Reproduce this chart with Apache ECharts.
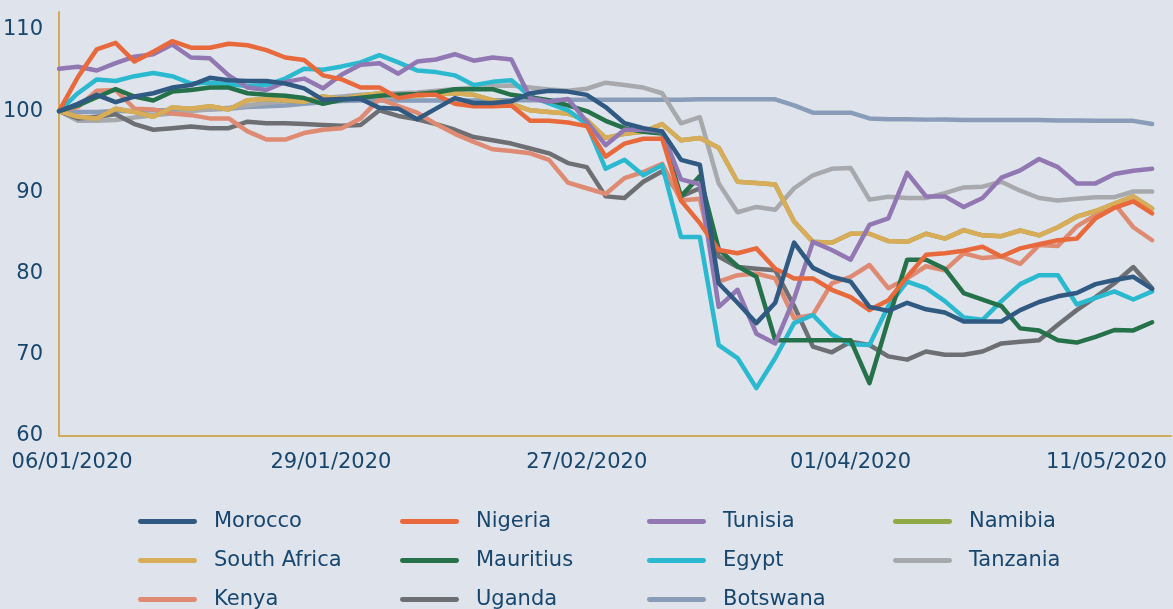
<!DOCTYPE html>
<html>
<head>
<meta charset="utf-8">
<title>African currencies index</title>
<script src="https://cdn.jsdelivr.net/npm/echarts@6/dist/echarts.min.js"></script>
<style>
  html, body { margin: 0; padding: 0; background: #dfe3eb; }
  #chart { width: 1173px; height: 609px; }
</style>
</head>
<body>
<div id="chart"></div>
<script>
    "use strict";

    // dates of the points (the last one only stretches the axis)
    var dates = [
        '06/01/2020', '07/01/2020', '09/01/2020', '11/01/2020', '12/01/2020', '14/01/2020', '16/01/2020',
        '17/01/2020', '19/01/2020', '20/01/2020', '22/01/2020', '24/01/2020', '25/01/2020', '27/01/2020',
        '29/01/2020',
        '31/01/2020', '02/02/2020', '04/02/2020', '06/02/2020', '08/02/2020', '10/02/2020', '12/02/2020',
        '14/02/2020', '16/02/2020', '18/02/2020', '20/02/2020', '22/02/2020', '24/02/2020', '27/02/2020',
        '29/02/2020', '03/03/2020', '05/03/2020', '08/03/2020', '10/03/2020', '13/03/2020', '15/03/2020',
        '17/03/2020', '20/03/2020', '22/03/2020', '24/03/2020', '27/03/2020', '29/03/2020', '01/04/2020',
        '04/04/2020', '07/04/2020', '09/04/2020', '12/04/2020', '15/04/2020', '18/04/2020', '21/04/2020',
        '23/04/2020', '26/04/2020', '29/04/2020', '02/05/2020', '05/05/2020', '08/05/2020', '11/05/2020',
        '13/05/2020', '15/05/2020', '17/05/2020'
    ];
    var tickDates = ['06/01/2020', '29/01/2020', '27/02/2020', '01/04/2020', '11/05/2020'];
    var yTicks = [60, 70, 80, 90, 100, 110];

    var morocco = [100, 100.9, 102.0, 101.1, 101.8, 102.2, 102.9, 103.2, 104.1, 103.8, 103.7, 103.7, 103.4, 102.8,
        101.4, 101.5, 101.5, 100.4, 100.3, 99.0, 100.3, 101.6, 101.0, 101.0, 101.2, 102.2, 102.5, 102.4, 102.0,
        100.5, 98.5, 97.9, 97.5, 94.0, 93.4, 78.8, 76.4, 73.9, 76.4, 83.8, 80.7, 79.6, 79.0, 75.9, 75.4, 76.4,
        75.6, 75.2, 74.1, 74.1, 74.1, 75.5, 76.5, 77.2, 77.6, 78.7, 79.2, 79.6, 78.1];
    var nigeria = [100, 104.2, 107.6, 108.4, 106.1, 107.3, 108.6, 107.8, 107.8, 108.3, 108.1, 107.5, 106.6, 106.3,
        104.4, 103.9, 102.9, 102.9, 101.6, 102.0, 102.0, 100.9, 100.6, 100.6, 100.7, 98.8, 98.8, 98.6, 98.15,
        94.4, 96.0, 96.6, 96.6, 89.0, 86.2, 82.9, 82.5, 83.1, 80.6, 79.4, 79.4, 78.0, 77.1, 75.5, 76.7, 79.6,
        82.3, 82.5, 82.8, 83.3, 82.1, 83.1, 83.6, 84.1, 84.3, 86.8, 88.1, 88.9, 87.4];
    var tunisia = [105.2, 105.45, 105.0, 105.9, 106.7, 107.0, 108.2, 106.6, 106.5, 104.4, 102.9, 102.6, 103.6, 104.0,
        102.8, 104.5, 105.7, 105.9, 104.6, 106.1, 106.35, 107.0, 106.2, 106.6, 106.35, 101.6, 101.15, 101.5, 98.7,
        95.8, 97.7, 97.7, 97.45, 91.6, 91.0, 75.9, 78.0, 72.6, 71.4, 76.9, 83.9, 82.9, 81.7, 86.0, 86.8, 92.4,
        89.5, 89.5, 88.2, 89.3, 91.8, 92.7, 94.1, 93.1, 91.1, 91.1, 92.25, 92.65, 92.9];
    // Namibia sits right under South Africa (pegged currency)
    var namibia = [100, 99.3, 99.1, 100.3, 99.9, 99.3, 100.45, 100.3, 100.6, 100.2, 101.35, 101.5, 101.35, 101.15,
        101.8, 101.5, 101.9, 102.2, 101.8, 101.9, 102.1, 102.2, 102.0, 101.35, 100.9, 100.1, 99.9, 99.7, 98.9,
        96.7, 97.2, 97.45, 98.4, 96.4, 96.7, 95.5, 91.3, 91.15, 90.95, 86.4, 83.9, 83.8, 84.9, 84.9, 84.0, 83.9,
        84.9, 84.3, 85.35, 84.7, 84.6, 85.3, 84.7, 85.7, 87.0, 87.7, 88.6, 89.5, 88.0];
    var southAfrica = [100, 99.3, 99.1, 100.3, 99.9, 99.3, 100.45, 100.3, 100.6, 100.2, 101.35, 101.5, 101.35, 101.15,
        101.8, 101.5, 101.9, 102.2, 101.8, 101.9, 102.1, 102.2, 102.0, 101.35, 100.9, 100.1, 99.9, 99.7, 98.9,
        96.7, 97.2, 97.45, 98.4, 96.4, 96.7, 95.5, 91.3, 91.15, 90.95, 86.4, 83.9, 83.8, 84.9, 84.9, 84.0, 83.9,
        84.9, 84.3, 85.35, 84.7, 84.6, 85.3, 84.7, 85.7, 87.0, 87.7, 88.6, 89.5, 88.0];
    var mauritius = [100, 100.7, 101.7, 102.7, 101.8, 101.3, 102.4, 102.6, 102.9, 102.9, 102.2, 102.0, 101.9, 101.6,
        100.9, 101.4, 101.65, 101.9, 102.0, 102.1, 102.3, 102.7, 102.7, 102.7, 102.0, 101.7, 101.35, 100.7, 100.0,
        98.8, 97.9, 97.45, 97.25, 89.5, 92.0, 83.0, 80.9, 79.6, 71.8, 71.8, 71.8, 71.8, 71.8, 66.5, 74.3, 81.7,
        81.7, 80.6, 77.6, 76.8, 76.0, 73.25, 73.0, 71.8, 71.5, 72.2, 73.05, 73.0, 74.0];
    var egypt = [100, 102.2, 103.9, 103.7, 104.3, 104.7, 104.3, 103.4, 103.5, 103.3, 103.1, 103.2, 104.0, 105.2,
        105.1, 105.5, 106.0, 106.9, 106.0, 105.0, 104.8, 104.4, 103.2, 103.6, 103.8, 101.8, 100.95, 100.1, 98.4,
        92.9, 94.0, 92.1, 93.35, 84.5, 84.5, 71.2, 69.6, 65.9, 69.6, 73.9, 74.9, 72.5, 71.3, 71.2, 76.0, 79.0,
        78.2, 76.6, 74.6, 74.3, 76.6, 78.7, 79.8, 79.8, 76.2, 77.0, 77.8, 76.8, 77.8];
    var tanzania = [100, 98.8, 98.8, 98.9, 99.2, 99.5, 99.7, 100.0, 100.2, 100.4, 100.7, 101.0, 101.2, 101.4,
        101.6, 101.8, 102.0, 102.1, 102.2, 102.3, 102.5, 102.7, 102.9, 103.1, 103.15, 102.9, 102.65, 102.5, 102.75,
        103.5, 103.2, 102.9, 102.2, 98.5, 99.25, 91.1, 87.55, 88.2, 87.85, 90.5, 92.1, 92.9, 93.0, 89.1, 89.45,
        89.3, 89.3, 89.9, 90.6, 90.7, 91.3, 90.2, 89.3, 89.0, 89.2, 89.4, 89.4, 90.1, 90.1];
    var kenya = [100, 100.5, 102.5, 102.6, 100.3, 100.2, 99.7, 99.5, 99.1, 99.1, 97.5, 96.5, 96.5, 97.3,
        97.7, 97.9, 99.1, 101.5, 100.6, 99.8, 98.4, 97.2, 96.2, 95.3, 95.1, 94.8, 94.0, 91.2, 90.5,
        89.8, 91.75, 92.5, 93.5, 89.0, 89.2, 79.0, 79.8, 80.0, 79.4, 74.5, 74.9, 78.8, 79.6, 81.05, 78.2, 79.4,
        80.9, 80.4, 82.5, 81.9, 82.1, 81.2, 83.5, 83.4, 85.8, 87.2, 88.6, 85.7, 84.1];
    var uganda = [100, 99.1, 99.3, 99.6, 98.4, 97.7, 97.9, 98.1, 97.9, 97.9, 98.7, 98.5, 98.5, 98.4,
        98.3, 98.2, 98.3, 100.1, 99.4, 99.0, 98.4, 97.7, 96.8, 96.4, 96.0, 95.4, 94.8, 93.6, 93.1,
        89.5, 89.3, 91.3, 92.6, 89.5, 90.5, 82.1, 80.8, 80.6, 80.4, 76.0, 71.0, 70.3, 71.6, 71.2, 69.8, 69.4,
        70.4, 70.0, 70.0, 70.4, 71.4, 71.6, 71.8, 73.7, 75.5, 77.1, 78.8, 80.8, 78.2];
    var botswana = [100, 99.9, 99.9, 100.0, 100.0, 100.1, 100.1, 100.2, 100.2, 100.3, 100.5, 100.6, 100.7, 100.9,
        101.1, 101.25, 101.3, 101.3, 101.3, 101.3, 101.3, 101.3, 101.3, 101.35, 101.35, 101.35, 101.35, 101.4, 101.4,
        101.4, 101.4, 101.4, 101.4, 101.4, 101.45, 101.45, 101.45, 101.45, 101.45, 100.7, 99.8, 99.8, 99.8, 99.1, 99.0,
        99.0, 98.95, 98.95, 98.9, 98.9, 98.9, 98.9, 98.9, 98.85, 98.85, 98.8, 98.8, 98.8, 98.4];

    var navy = '#17466e';
    var gold = '#d3aa5a';
    var font = 'DejaVu Sans';

    // drawn bottom to top
    var lines = [
        {name: 'Botswana', data: botswana, color: '#899cba'},
        {name: 'Tanzania', data: tanzania, color: '#a8a9ac'},
        {name: 'Uganda', data: uganda, color: '#6e6f73'},
        {name: 'Kenya', data: kenya, color: '#df8b73'},
        {name: 'Namibia', data: namibia, color: '#8fa945'},
        {name: 'South Africa', data: southAfrica, color: '#d8ac58'},
        {name: 'Egypt', data: egypt, color: '#2bb9cf'},
        {name: 'Mauritius', data: mauritius, color: '#25714a'},
        {name: 'Tunisia', data: tunisia, color: '#9278b3'},
        {name: 'Nigeria', data: nigeria, color: '#e8693c'},
        {name: 'Morocco', data: morocco, color: '#305a82'}
    ];

    var legendCols = [
        {left: 138, names: ['Morocco', 'South Africa', 'Kenya']},
        {left: 400, names: ['Nigeria', 'Mauritius', 'Uganda']},
        {left: 647, names: ['Tunisia', 'Egypt', 'Botswana']},
        {left: 893, names: ['Namibia', 'Tanzania']}
    ];

    // small nudges so the date labels sit where the original puts them
    var labelStyle = {color: navy, fontFamily: font, fontSize: 21};
    var richLabels = {
        first: Object.assign({padding: [0, 0, 0, 26]}, labelStyle),
        second: Object.assign({padding: [0, 0, 0, 16]}, labelStyle),
        last: Object.assign({padding: [0, 16, 0, 0]}, labelStyle)
    };

    var chart = echarts.init(document.getElementById('chart'));
    chart.setOption({
        backgroundColor: '#dfe3eb',
        animation: false,
        grid: {left: 59, right: 2, top: 12, bottom: 173},
        xAxis: {
            type: 'category',
            data: dates,
            boundaryGap: false,
            axisLine: {lineStyle: {color: gold, width: 2}},
            axisTick: {show: false},
            splitLine: {show: false},
            axisLabel: {
                interval: function (index, value) {
                    return tickDates.indexOf(value) >= 0;
                },
                margin: 16,
                color: navy,
                fontFamily: font,
                fontSize: 21,
                formatter: function (value) {
                    if (value === tickDates[0]) return '{first|' + value + '}';
                    if (value === tickDates[1]) return '{second|' + value + '}';
                    if (value === tickDates[4]) return '{last|' + value + '}';
                    return value;
                },
                rich: richLabels
            }
        },
        yAxis: {
            type: 'value',
            min: yTicks[0],
            max: 112.2,
            interval: 10,
            axisLine: {show: true, lineStyle: {color: gold, width: 2}},
            axisTick: {show: false},
            splitLine: {show: false},
            axisLabel: {
                margin: 16,
                color: navy,
                fontFamily: font,
                fontSize: 21,
                showMaxLabel: false
            }
        },
        legend: legendCols.map(function (col) {
            return {
                orient: 'vertical',
                left: col.left,
                top: 509,
                width: 240,
                height: 160,
                padding: 0,
                data: col.names,
                itemWidth: 59,
                itemHeight: 5,
                itemGap: 14,
                icon: 'path://M2.5,0 L57.5,0 A2.5,2.5 0 0 1 57.5,5 L2.5,5 A2.5,2.5 0 0 1 2.5,0 Z',
                itemStyle: {borderWidth: 0},
                selectedMode: false,
                textStyle: {
                    color: navy,
                    fontFamily: font,
                    fontSize: 21,
                    lineHeight: 25,
                    padding: [0, 0, 0, 12]
                }
            };
        }),
        series: lines.map(function (s) {
            return {
                name: s.name,
                type: 'line',
                data: s.data,
                symbol: 'none',
                color: s.color,
                lineStyle: {width: 4.5, color: s.color, cap: 'round', join: 'round'}
            };
        })
    });
</script>
</body>
</html>
